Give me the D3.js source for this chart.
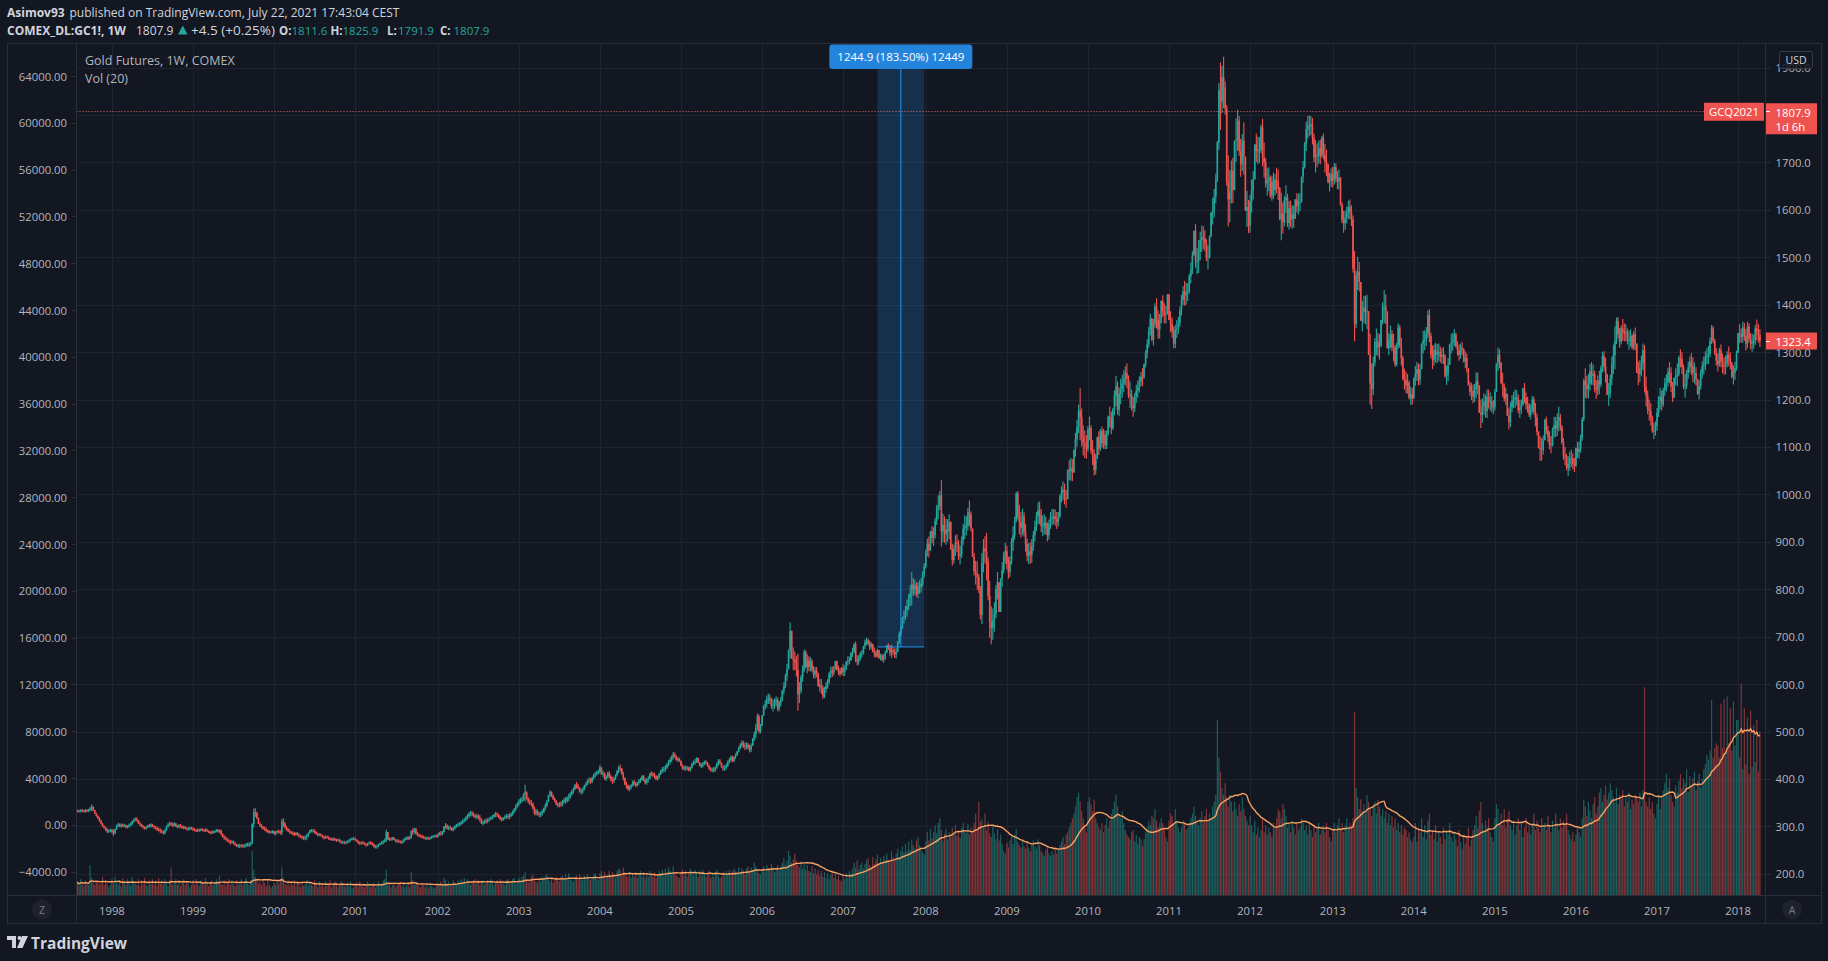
<!DOCTYPE html>
<html><head><meta charset="utf-8">
<script src="https://cdn.jsdelivr.net/npm/d3@7/dist/d3.min.js"></script>
<style>
html,body{margin:0;padding:0;background:#131722;overflow:hidden;}
svg{display:block;}
text{font-family:"Open Sans",Roboto,sans-serif;}
</style></head><body>
<svg id="chart" width="1828" height="961"></svg>
<script>
// ================= DATA =================
const yearList = [1997,1998,1999,2000,2001,2002,2003,2004,2005,2006,2007,2008,2009,2010,2011,2012,2013,2014,2015,2016,2017,2018];
const firstWeek1997 = "1997-07-28";
const firstOpen = 333;

// weekly closes (USD)
const close1997 = [332,333,331,334,333,331,334,332,335,338,341,334,327,322,317,312,306,300,297,293,289,291,292];
const close1998 = [288,285,294,302,304,300,303,301,302,298,300,303,305,310,314,316,313,306,304,300,298,296,298,302,300,304,300,298,296,294,292,290,288,286,292,300,304,306,304,302,306,300,299,302,300,297,299,296,294,295,297,295];
const close1999 = [294,292,290,293,291,294,292,291,293,290,288,286,289,287,290,292,289,291,284,278,276,273,270,268,266,268,264,262,258,260,258,260,258,259,262,261,262,264,305,330,328,318,305,302,298,296,294,291,288,289,287,290];
const close2000 = [284,287,290,288,287,310,306,298,294,290,288,286,285,282,286,282,280,278,276,275,277,279,286,292,290,291,288,284,282,283,281,277,276,278,277,274,273,272,274,271,270,272,268,266,267,265,266,268,270,273,274,274];
const close2001 = [272,268,265,264,266,265,262,260,264,266,264,262,258,256,258,262,264,266,268,272,288,272,274,272,276,272,268,270,268,266,267,272,274,276,275,276,290,288,294,285,282,280,279,278,276,274,276,274,276,278,279,280,279];
const close2002 = [282,286,284,288,300,302,296,298,296,292,296,300,302,304,306,308,312,314,318,322,326,328,326,322,320,322,318,316,306,308,312,310,314,316,318,320,324,326,324,320,316,314,318,320,322,320,322,326,330,336,342,348];
const close2003 = [352,356,356,368,372,358,352,350,348,338,328,332,326,324,328,330,338,344,352,366,372,364,358,354,346,344,348,346,352,356,354,360,362,368,374,378,388,386,382,372,374,378,386,390,396,398,394,402,408,410,414,416];
const close2004 = [424,410,412,400,404,412,406,398,396,400,408,416,424,422,410,402,388,386,378,382,386,394,390,386,392,396,398,406,398,392,398,400,412,410,408,406,400,404,410,418,420,420,424,430,436,440,446,452,448,440,442,438];
const close2005 = [428,422,424,422,424,418,424,432,436,436,444,434,428,428,432,436,434,428,422,418,420,418,424,432,438,434,424,422,424,428,436,440,446,438,446,450,458,466,472,476,470,468,472,466,462,470,486,494,508,532,500,512];
const close2006 = [534,554,558,568,570,566,554,556,562,566,548,560,566,586,596,618,632,672,712,654,652,646,630,578,586,614,630,668,636,650,636,648,630,620,628,622,596,598,592,574,590,596,604,622,628,624,632,648,630,628,622,634];
const close2007 = [626,630,648,650,650,666,668,684,652,648,654,664,664,680,688,692,686,678,684,668,666,660,672,654,660,652,656,666,682,676,666,672,668,662,668,690,706,718,740,744,756,764,782,792,810,800,808,790,806,804,812,832,848];
const close2008 = [880,896,882,922,908,914,944,970,976,998,922,936,916,926,922,942,884,862,886,898,896,870,874,904,928,934,934,962,958,928,868,838,832,826,798,746,856,886,880,858,786,730,718,735,748,800,815,752,823,840,872,880];
const close2009 = [854,836,860,900,914,944,1002,952,942,930,954,920,896,870,880,872,890,914,932,954,966,956,934,934,940,928,914,938,952,952,954,948,942,954,996,1004,1010,992,990,1052,1050,1056,1046,1094,1116,1142,1176,1162,1120,1108,1104,1096];
const close2010 = [1138,1140,1092,1084,1052,1076,1120,1096,1134,1108,1126,1104,1126,1164,1162,1140,1178,1208,1228,1178,1212,1222,1234,1244,1256,1244,1210,1210,1188,1182,1206,1218,1226,1238,1248,1246,1274,1298,1316,1346,1370,1326,1358,1396,1368,1348,1362,1408,1386,1378,1380,1422];
const close2011 = [1368,1360,1344,1318,1348,1350,1362,1388,1410,1428,1420,1426,1428,1460,1474,1504,1556,1492,1492,1512,1536,1542,1540,1530,1500,1500,1544,1594,1600,1628,1662,1742,1852,1828,1880,1858,1814,1658,1622,1636,1682,1642,1746,1748,1788,1724,1696,1746,1712,1598,1606,1566];
const close2012 = [1618,1640,1664,1738,1724,1726,1726,1774,1710,1700,1656,1662,1668,1630,1660,1642,1664,1660,1646,1580,1592,1574,1620,1626,1572,1604,1580,1590,1582,1622,1608,1616,1616,1670,1690,1740,1770,1778,1776,1780,1752,1710,1716,1714,1730,1714,1752,1716,1702,1696,1658,1660,1676];
const close2013 = [1662,1690,1666,1660,1668,1610,1578,1572,1584,1594,1606,1596,1580,1476,1360,1462,1470,1448,1366,1386,1394,1384,1386,1294,1234,1222,1278,1322,1322,1310,1312,1368,1396,1396,1386,1308,1326,1338,1310,1310,1274,1316,1352,1314,1288,1244,1242,1230,1236,1204,1212,1202];
const close2014 = [1246,1254,1264,1242,1264,1318,1324,1326,1340,1378,1334,1294,1284,1304,1294,1300,1300,1290,1294,1292,1250,1252,1274,1316,1320,1324,1338,1312,1304,1294,1310,1306,1280,1288,1266,1230,1216,1218,1206,1222,1238,1230,1172,1168,1186,1196,1176,1206,1196,1196,1184,1184];
const close2015 = [1216,1276,1294,1278,1234,1228,1202,1212,1166,1152,1184,1198,1200,1204,1204,1178,1182,1188,1224,1204,1190,1188,1168,1180,1200,1174,1162,1132,1098,1096,1094,1114,1158,1134,1122,1106,1104,1138,1146,1138,1156,1162,1142,1110,1082,1080,1056,1064,1076,1076,1064,1060];
const close2016 = [1098,1090,1096,1118,1158,1240,1230,1222,1234,1260,1250,1254,1222,1220,1240,1232,1266,1292,1270,1254,1210,1212,1244,1276,1294,1324,1366,1338,1322,1350,1344,1340,1342,1324,1326,1334,1310,1338,1318,1256,1254,1266,1276,1304,1226,1208,1180,1176,1162,1134,1134,1144];
const close2017 = [1172,1198,1206,1190,1220,1234,1236,1258,1256,1228,1204,1246,1250,1254,1288,1286,1268,1228,1230,1256,1268,1280,1270,1256,1256,1242,1212,1228,1256,1270,1274,1290,1292,1296,1324,1350,1324,1298,1282,1274,1304,1280,1272,1270,1276,1294,1288,1276,1248,1256,1266,1298];
const close2018 = [1340,1338,1332,1352,1334,1318,1354,1328,1318,1322,1322,1350,1344,1336,1323.4];

// weekly high-low range (USD)
const range1997 = [7,6,6,7,6,6,8,6,7,9,14,10,9,8,8,9,10,8,7,9,10,8,7];
const range1998 = [10,14,12,11,9,8,9,8,7,8,7,9,8,10,9,8,9,8,9,7,8,7,8,7,8,9,7,8,7,9,8,10,9,8,12,11,10,9,8,10,9,8,7,9,8,7,8,7,6,7,8,6];
const range1999 = [8,7,6,8,7,6,7,6,8,7,6,7,8,7,6,7,8,7,12,9,10,8,9,8,10,7,8,9,7,8,9,7,8,7,9,8,10,9,44,40,18,16,12,10,9,8,9,10,8,7,6,7];
const range2000 = [8,9,7,8,9,34,18,14,10,8,9,7,8,9,7,8,9,7,8,9,10,12,9,8,7,8,9,7,8,7,6,7,8,7,6,7,6,7,8,6,7,6,7,8,6,7,6,7,8,7,6,7];
const range2001 = [7,6,7,8,6,7,6,8,7,6,7,8,9,7,8,7,6,8,9,9,26,14,7,8,7,6,7,8,7,6,7,8,9,7,8,7,18,14,12,14,10,8,7,8,7,6,7,6,7,6,7,6,7];
const range2002 = [9,8,10,9,14,12,11,10,9,8,9,10,8,9,8,9,10,9,11,12,13,12,11,10,9,10,11,14,12,10,9,11,10,9,8,10,9,11,10,9,10,9,8,9,10,11,12,10,11,12,13,11];
const range2003 = [14,13,12,16,36,18,14,12,13,15,18,14,12,11,12,13,12,14,15,13,14,12,11,10,11,10,11,12,13,12,14,13,16,14,12,13,12,14,12,11,12,13,12,11,12,13,12,14,13,12,11,10];
const range2004 = [18,16,14,15,13,14,16,15,14,13,12,14,16,15,14,18,16,14,13,12,11,13,12,11,10,12,11,12,13,12,14,13,12,11,10,12,11,10,12,11,12,13,14,12,13,15,14,16,12,11,10,9];
const range2005 = [12,11,10,11,9,10,11,12,10,13,12,11,10,11,12,10,9,10,11,9,10,11,12,13,14,11,10,11,12,13,14,12,13,14,12,11,10,12,13,14,15,16,14,15,16,18,17,20,30,36,40,20];
const range2006 = [24,22,20,26,22,20,24,26,22,21,28,22,20,24,26,30,36,42,76,60,48,40,44,120,44,38,34,48,38,40,32,30,28,26,24,22,30,26,32,28,24,22,20,26,24,22,20,18,22,20,18,16];
const range2007 = [26,22,18,20,16,18,20,22,44,22,20,18,16,18,20,16,14,20,16,18,20,16,18,16,14,16,18,20,16,14,22,28,18,20,22,24,26,24,26,28,30,36,34,44,70,38,32,30,34,28,30,32,30];
const range2008 = [40,38,44,42,36,40,44,42,50,40,140,60,56,54,48,52,60,46,40,44,38,42,40,46,44,50,40,48,54,42,56,48,50,60,40,70,150,70,58,100,90,120,80,66,62,70,58,54,48,52,46,44];
const range2009 = [50,46,44,56,52,48,64,60,62,54,56,52,58,48,44,46,50,42,44,40,46,48,50,44,42,38,40,42,36,34,32,34,36,30,50,34,40,44,38,48,42,48,46,44,50,56,60,110,80,64,58,50];
const range2010 = [54,50,60,52,56,44,48,50,46,44,42,40,38,42,44,48,46,52,64,70,60,54,48,46,40,52,48,56,44,42,40,38,36,34,30,38,32,36,40,44,46,50,56,52,64,60,52,48,46,42,38,36];
const range2011 = [40,44,42,46,50,38,36,42,44,40,52,46,38,42,44,48,52,92,56,70,60,56,48,44,46,50,48,52,56,60,62,86,140,142,100,108,70,170,150,110,90,96,100,92,86,84,80,78,110,90,76,70];
const range2012 = [80,70,60,72,60,58,54,60,100,74,62,58,50,48,52,56,44,54,64,70,100,66,64,58,70,60,56,50,46,42,40,44,38,42,46,56,62,48,44,40,56,60,68,50,48,52,46,54,60,56,42,40,38];
const range2013 = [44,46,40,38,42,60,44,46,40,36,38,42,44,120,190,120,70,62,80,64,58,60,72,70,150,96,82,60,56,50,54,52,46,70,62,54,46,48,44,58,46,50,54,48,58,52,44,46,42,40,38,36];
const range2014 = [44,42,40,46,44,50,48,42,40,58,70,54,50,44,42,40,36,34,32,36,50,40,48,44,42,38,36,32,30,34,32,28,30,36,40,34,30,36,40,38,54,46,58,60,52,46,48,60,40,38,34,30];
const range2015 = [46,56,48,40,44,50,38,36,42,44,52,36,34,38,32,40,38,30,36,42,36,34,30,32,36,38,50,46,36,52,48,40,44,36,34,38,36,40,44,42,48,52,36,40,46,38,34,42,40,36,34,30];
const range2016 = [40,34,36,38,50,90,62,48,52,56,48,44,46,40,42,50,46,44,42,52,44,48,50,60,62,90,56,44,42,40,46,38,36,34,40,36,32,40,48,54,50,46,44,56,100,62,50,44,46,36,34,30];
const range2017 = [48,44,46,42,40,38,36,40,44,52,42,38,36,48,44,38,46,52,50,40,36,34,46,52,44,38,34,40,42,36,38,40,34,38,42,40,36,34,36,38,40,48,42,36,40,34,42,36,34,40,38,42];
const range2018 = [36,40,30,44,38,46,56,40,34,38,30,42,44,40,38];

// weekly volume (hundreds, Vol pane units)
const vol1997 = [12,10,8,14,11,8,13,10,9,26,15,11,9,13,12,9,11,16,9,13,10,7,9];
const vol1998 = [14,10,16,12,9,13,8,15,11,9,14,12,8,16,12,10,9,14,8,13,10,15,9,8,13,10,14,9,13,8,15,10,13,9,14,11,8,13,24,9,11,14,9,13,8,11,14,9,12,10,7,9];
const vol1999 = [13,9,14,10,8,13,11,9,15,12,8,11,13,9,11,14,12,17,10,9,13,8,11,14,9,13,10,8,13,9,11,14,9,12,15,10,9,13,38,22,16,14,10,12,9,14,11,8,13,9,7,8];
const vol2000 = [11,9,13,10,14,24,15,10,9,13,8,11,9,13,8,11,10,7,12,8,10,13,8,11,9,8,13,9,7,12,8,10,7,12,8,10,13,7,9,12,10,7,9,12,10,8,7,11,8,12,6,7];
const vol2001 = [9,11,7,12,8,10,7,9,12,10,7,9,11,7,9,12,8,10,13,14,22,11,10,7,9,11,7,9,10,12,8,10,7,9,11,7,20,13,9,11,10,8,7,11,9,7,9,6,11,8,7,6,8];
const vol2002 = [10,8,12,10,15,13,9,12,8,10,13,11,9,13,11,14,12,15,10,14,12,9,11,13,14,10,13,9,11,13,9,11,13,10,14,12,9,11,13,10,14,12,10,9,13,14,10,12,14,15,10,12];
const vol2003 = [15,12,16,17,20,14,11,13,16,18,14,12,11,15,12,16,14,17,18,14,12,15,11,13,16,13,12,16,17,13,18,15,19,14,13,12,16,17,13,18,14,13,17,14,18,16,13,15,18,19,14,13];
const vol2004 = [19,21,16,20,15,18,21,16,20,18,15,21,23,22,18,24,20,17,16,20,15,18,16,20,15,18,21,16,20,15,18,16,21,18,16,20,15,18,21,19,22,17,23,20,24,21,18,25,20,17,16,15];
const vol2005 = [19,22,17,21,16,19,23,20,17,22,19,16,21,17,22,19,16,18,21,15,18,16,20,22,17,15,16,20,17,21,19,22,17,21,23,21,18,24,20,23,21,18,23,25,20,24,22,28,25,22,19,18];
const vol2006 = [22,25,20,26,23,21,27,24,20,23,26,21,25,28,32,26,30,38,34,28,31,36,30,26,24,29,23,27,22,26,21,20,25,19,23,18,22,17,21,16,20,15,19,14,18,20,15,19,14,17,13,12];
const vol2007 = [17,14,19,15,21,19,23,28,24,30,22,26,28,23,27,30,32,26,24,33,27,31,35,28,32,27,34,30,36,31,28,38,33,30,36,40,33,38,42,37,44,38,46,39,48,43,40,47,50,43,41,37,35];
const vol2008 = [46,54,47,57,49,54,60,53,62,66,56,47,53,57,48,54,50,58,53,60,51,56,49,58,62,55,53,61,52,58,54,62,70,57,80,63,65,58,70,56,63,53,50,59,53,48,57,47,52,44,38,36];
const vol2009 = [45,41,47,50,44,52,57,46,43,41,47,42,40,46,41,38,45,47,42,40,48,43,38,36,34,39,42,36,34,38,35,41,36,39,43,46,50,44,52,54,58,62,66,70,76,84,88,80,72,66,60,54];
const vol2010 = [80,84,78,72,82,66,62,58,56,62,54,60,66,58,64,70,74,80,86,76,70,66,72,62,56,52,50,48,54,56,46,52,44,50,48,42,48,54,58,64,60,68,66,74,64,58,62,66,62,58,50,46];
const vol2011 = [64,70,68,62,74,64,58,54,58,64,62,56,58,62,66,70,76,68,62,60,66,72,62,68,74,64,70,66,76,80,86,150,118,106,92,86,96,84,76,86,80,72,80,74,68,78,72,84,74,68,64,60];
const vol2012 = [68,60,54,64,52,58,50,56,66,54,60,52,58,54,50,62,58,66,74,72,66,78,74,68,58,62,54,64,58,52,62,56,58,66,62,56,60,52,62,56,50,60,54,58,62,52,56,60,54,62,56,50,46];
const vol2013 = [56,62,54,60,66,56,62,54,60,66,58,62,60,66,157,92,84,74,82,72,78,70,86,80,74,68,76,80,70,82,76,68,74,66,72,62,70,60,68,58,66,56,62,54,60,52,58,56,50,54,48,46];
const vol2014 = [50,62,46,58,54,66,50,60,48,64,70,52,56,48,60,46,54,50,44,58,48,56,52,62,50,46,54,48,42,56,46,40,52,44,50,58,42,48,56,60,68,58,72,80,62,56,64,58,66,54,50,46];
const vol2015 = [66,78,74,62,70,60,74,58,66,72,60,56,64,52,60,66,56,62,50,58,66,54,60,52,62,70,56,64,58,54,66,58,62,56,68,60,54,64,58,70,62,56,66,58,64,60,70,56,52,48,54,46];
const vol2016 = [52,58,54,50,66,82,76,68,80,72,66,78,84,70,76,88,92,80,86,94,82,88,96,90,84,80,92,78,86,82,90,76,84,80,88,74,82,78,86,84,80,88,76,90,178,80,76,84,74,80,70,66];
const vol2017 = [78,86,74,84,90,96,104,92,100,86,80,76,94,88,98,104,92,100,96,108,88,102,94,100,106,90,98,104,92,100,108,112,120,116,124,167,118,126,130,128,118,164,126,168,122,170,130,160,124,166,128,150];
const vol2018 = [150,118,181,108,160,112,152,104,158,110,146,114,150,106,140];

// axis tick labels
const yearLabels = ["1998","1999","2000","2001","2002","2003","2004","2005","2006","2007","2008","2009","2010","2011","2012","2013","2014","2015","2016","2017","2018"];
const priceTicks = [200,300,400,500,600,700,800,900,1000,1100,1200,1300,1400,1500,1600,1700,1800,1900];
const volAxisTicks = [-4000,0,4000,8000,12000,16000,20000,24000,28000,32000,36000,40000,44000,48000,52000,56000,60000,64000];

// annotations
const contractLabel = "GCQ2021";
const contractPrice = 1807.9;
const contractCountdown = "1d 6h";
const rangeDates = ["2007-06-04","2007-12-31"];
const rangePrices = [678.4,1923.3];
const rangeText = "1244.9 (183.50%) 12449";

// ================= BUILD =================
const closeSeries=[close1997,close1998,close1999,close2000,close2001,close2002,close2003,close2004,close2005,close2006,close2007,close2008,close2009,close2010,close2011,close2012,close2013,close2014,close2015,close2016,close2017,close2018];
const rangeSeries=[range1997,range1998,range1999,range2000,range2001,range2002,range2003,range2004,range2005,range2006,range2007,range2008,range2009,range2010,range2011,range2012,range2013,range2014,range2015,range2016,range2017,range2018];
const volSeries=[vol1997,vol1998,vol1999,vol2000,vol2001,vol2002,vol2003,vol2004,vol2005,vol2006,vol2007,vol2008,vol2009,vol2010,vol2011,vol2012,vol2013,vol2014,vol2015,vol2016,vol2017,vol2018];

const parseDay=d3.utcParse("%Y-%m-%d");
const bars=[];
let prev=firstOpen;
yearList.forEach((yr,k)=>{
  const start = yr===1997 ? parseDay(firstWeek1997) : d3.utcMonday.ceil(new Date(Date.UTC(yr,0,1)));
  closeSeries[k].forEach((c,i)=>{
    const o=prev, r=rangeSeries[k][i], body=Math.abs(c-o), ext=Math.max(0,(r-body)/2);
    bars.push({date:d3.utcDay.offset(start,7*i),open:o,close:c,high:Math.max(o,c)+ext,low:Math.min(o,c)-ext,vol:volSeries[k][i]});
    prev=c;
  });
});
bars.forEach((b,i)=>{b.ma=d3.mean(bars.slice(Math.max(0,i-19),i+1),d=>d.vol);});
const last=bars[bars.length-1];

const W=1828,H=961;
const P={l:76.5,r:1765.5,t:43.5,b:895.5};
const paneL=7.5,paneR=1821.5,paneB=923.5;

const svg=d3.select("#chart");
svg.append("rect").attr("width",W).attr("height",H).attr("fill","#131722");

const yearTickDates=yearLabels.map(s=>d3.utcMonday.ceil(new Date(Date.UTC(+s,0,1))));
const x=d3.scaleUtc().domain([yearTickDates[0],yearTickDates[yearTickDates.length-1]]).range([111.9,1738.1]);
const y=d3.scaleLinear().domain([200,1900]).range([873.8,67.6]);
const yLeft=d3.scaleLinear().domain([-4000,64000]).range([871.6,76]);
const yVol=d3.scaleLinear().domain([0,700]).range([P.b,P.b-819]);

const defs=svg.append("defs");
defs.append("clipPath").attr("id","plotClip").append("rect").attr("x",P.l+0.5).attr("y",P.t+0.5).attr("width",P.r-P.l-1).attr("height",P.b-P.t-1);

// pane frame
svg.append("rect").attr("x",paneL).attr("y",P.t).attr("width",paneR-paneL).attr("height",paneB-P.t).attr("fill","#131722").attr("stroke","#2a2e39");

const g=svg.append("g").attr("clip-path","url(#plotClip)");
// grid
g.append("g").selectAll("line").data(priceTicks).join("line")
 .attr("x1",P.l).attr("x2",P.r).attr("y1",d=>Math.round(y(d))+0.5).attr("y2",d=>Math.round(y(d))+0.5)
 .attr("stroke","#1f2330").attr("stroke-width",1);
g.append("g").selectAll("line").data(yearTickDates).join("line")
 .attr("y1",P.t).attr("y2",P.b).attr("x1",d=>Math.round(x(d))+0.5).attr("x2",d=>Math.round(x(d))+0.5)
 .attr("stroke","#1f2330").attr("stroke-width",1);

// range tool box (behind candles)
const rx0=x(parseDay(rangeDates[0])), rx1=x(parseDay(rangeDates[1]));
const ryTop=y(rangePrices[1]), ryBot=y(rangePrices[0]);
g.append("rect").attr("x",rx0).attr("y",ryTop).attr("width",rx1-rx0).attr("height",ryBot-ryTop).attr("fill","rgba(33,150,243,0.2)");

// volume
g.append("g").selectAll("rect").data(bars).join("rect")
 .attr("x",d=>x(d.date)-0.6).attr("width",1.2)
 .attr("y",d=>yVol(d.vol)).attr("height",d=>P.b-yVol(d.vol))
 .attr("fill",d=>d.close>=d.open?"rgba(38,166,154,0.5)":"rgba(239,83,80,0.5)");

// candles
const cg=g.append("g");
cg.selectAll("line").data(bars).join("line")
 .attr("x1",d=>x(d.date)).attr("x2",d=>x(d.date)).attr("y1",d=>y(d.high)).attr("y2",d=>y(d.low))
 .attr("stroke",d=>d.close>=d.open?"#26a69a":"#ef5350").attr("stroke-width",1.1);
cg.selectAll("rect").data(bars).join("rect")
 .attr("x",d=>x(d.date)-0.8).attr("width",1.6)
 .attr("y",d=>y(Math.max(d.open,d.close))).attr("height",d=>Math.max(1,Math.abs(y(d.open)-y(d.close))))
 .attr("fill",d=>d.close>=d.open?"#26a69a":"#ef5350");

// volume MA
g.append("path").datum(bars).attr("fill","none").attr("stroke","#f7a262").attr("stroke-width",1.4)
 .attr("d",d3.line().x(d=>x(d.date)).y(d=>yVol(d.ma)));

// contract price dotted line
const ycl=Math.round(y(contractPrice))+0.5;
g.append("line").attr("x1",P.l).attr("x2",1704).attr("y1",ycl).attr("y2",ycl)
 .attr("stroke","#e0666a").attr("stroke-dasharray","1 2");

// range tool lines
const rmid=(rx0+rx1)/2;
g.append("line").attr("x1",rmid).attr("x2",rmid).attr("y1",ryTop).attr("y2",ryBot).attr("stroke","#2196f3").attr("stroke-width",1);
g.append("line").attr("x1",rx0).attr("x2",rx1).attr("y1",ryBot).attr("y2",ryBot).attr("stroke","#2196f3").attr("stroke-width",1);
svg.append("rect").attr("x",rmid-71.5).attr("y",44.5).attr("width",143).attr("height",24.5).attr("rx",3).attr("fill","#2384dc");
svg.append("text").attr("x",rmid).attr("y",56.8).attr("text-anchor","middle").attr("dominant-baseline","central")
 .attr("fill","#ffffff").attr("font-size",11.5).text(rangeText);

// legend
svg.append("text").attr("x",85).attr("y",60.7).attr("dominant-baseline","central").attr("fill","#b2b5be").attr("font-size",12.5).text("Gold Futures, 1W, COMEX");
svg.append("text").attr("x",85).attr("y",78.3).attr("dominant-baseline","central").attr("fill","#b2b5be").attr("font-size",12.5).text("Vol (20)");

// separators
svg.append("line").attr("x1",P.l).attr("x2",P.l).attr("y1",P.t).attr("y2",paneB).attr("stroke","#2a2e39");
svg.append("line").attr("x1",P.r).attr("x2",P.r).attr("y1",P.t).attr("y2",paneB).attr("stroke","#2a2e39");
svg.append("line").attr("x1",paneL).attr("x2",paneR).attr("y1",P.b).attr("y2",P.b).attr("stroke","#2a2e39");

// left axis (volume scale)
const la=svg.append("g");
la.selectAll("line").data(volAxisTicks).join("line").attr("x1",P.l-5).attr("x2",P.l).attr("y1",d=>Math.round(yLeft(d))+0.5).attr("y2",d=>Math.round(yLeft(d))+0.5).attr("stroke","#2a2e39");
la.selectAll("text").data(volAxisTicks).join("text").attr("x",67).attr("y",d=>yLeft(d)).attr("text-anchor","end").attr("dominant-baseline","central")
 .attr("fill","#b2b5be").attr("font-size",11.3).text(d3.format(".2f"));

// right axis (price); the tick hidden behind the contract tag is not drawn, as in the reference
const shownPriceTicks=priceTicks.filter(p=>Math.abs(y(p)-y(contractPrice))>12);
const ra=svg.append("g");
ra.selectAll("line").data(priceTicks).join("line").attr("x1",P.r).attr("x2",P.r+5).attr("y1",d=>Math.round(y(d))+0.5).attr("y2",d=>Math.round(y(d))+0.5).attr("stroke","#2a2e39");
ra.selectAll("text").data(shownPriceTicks).join("text").attr("x",1775.5).attr("y",d=>y(d)).attr("dominant-baseline","central")
 .attr("fill","#b2b5be").attr("font-size",11.3).text(d3.format(".1f"));

// USD box
svg.append("rect").attr("x",1779.5).attr("y",51.5).attr("width",33).attr("height",17).attr("rx",2).attr("fill","#131722").attr("fill-opacity",0.85).attr("stroke","#363a45");
svg.append("text").attr("x",1796).attr("y",60.2).attr("text-anchor","middle").attr("dominant-baseline","central").attr("fill","#d1d4dc").attr("font-size",10.5).text("USD");

// contract tags
const yc=y(contractPrice);
svg.append("rect").attr("x",1704).attr("y",yc-8.5).attr("width",60).attr("height",18).attr("fill","#ef5350");
svg.append("text").attr("x",1734).attr("y",yc+0.5).attr("text-anchor","middle").attr("dominant-baseline","central").attr("fill","#fff").attr("font-size",11.3).text(contractLabel);
svg.append("rect").attr("x",1766).attr("y",yc-8).attr("width",51).attr("height",31).attr("fill","#ef5350");
svg.append("line").attr("x1",1766).attr("x2",1770).attr("y1",Math.round(yc)+0.5).attr("y2",Math.round(yc)+0.5).attr("stroke","#fff");
svg.append("text").attr("x",1775.5).attr("y",yc+1).attr("dominant-baseline","central").attr("fill","#fff").attr("font-size",11.3).text(d3.format(".1f")(contractPrice));
svg.append("text").attr("x",1775.5).attr("y",yc+15.3).attr("dominant-baseline","central").attr("fill","#fff").attr("font-size",11.3).text(contractCountdown);

// last bar tag
const yl=y(last.close);
svg.append("rect").attr("x",1766).attr("y",yl-8.5).attr("width",51).attr("height",17).attr("fill","#ef5350");
svg.append("line").attr("x1",1766).attr("x2",1770).attr("y1",Math.round(yl)+0.5).attr("y2",Math.round(yl)+0.5).attr("stroke","#fff");
svg.append("text").attr("x",1775.5).attr("y",yl).attr("dominant-baseline","central").attr("fill","#fff").attr("font-size",11.3).text(d3.format(".1f")(last.close));

// time axis
svg.append("g").selectAll("text").data(yearTickDates).join("text")
 .attr("x",d=>x(d)).attr("y",910).attr("text-anchor","middle").attr("dominant-baseline","central")
 .attr("fill","#b2b5be").attr("font-size",11.3).text((d,i)=>yearLabels[i]);
[[42,"Z"],[1792,"A"]].forEach(([cx,t])=>{
  svg.append("circle").attr("cx",cx).attr("cy",909.5).attr("r",10).attr("fill","#1e222d");
  svg.append("text").attr("x",cx).attr("y",909.5).attr("text-anchor","middle").attr("dominant-baseline","central").attr("fill","#787b86").attr("font-size",10.5).text(t);
});

// header
const hdr=svg.append("g").attr("fill","#d1d4dc");
hdr.append("text").attr("x",7).attr("y",12.5).attr("dominant-baseline","central").attr("font-size",12).attr("font-weight",700).text("Asimov93");
hdr.append("text").attr("x",69.5).attr("y",12.5).attr("dominant-baseline","central").attr("font-size",12).attr("textLength",330).attr("lengthAdjust","spacingAndGlyphs").text("published on TradingView.com, July 22, 2021 17:43:04 CEST");
hdr.append("text").attr("x",7).attr("y",30).attr("dominant-baseline","central").attr("font-size",12).attr("font-weight",700).text("COMEX_DL:GC1!, 1W");
hdr.append("text").attr("x",136).attr("y",30).attr("dominant-baseline","central").attr("font-size",12).text("1807.9");
hdr.append("path").attr("d","M178,34.5 L187.5,34.5 L182.75,25.5 Z").attr("fill","#26a69a");
hdr.append("text").attr("x",191).attr("y",30).attr("dominant-baseline","central").attr("font-size",12).attr("textLength",84).attr("lengthAdjust","spacingAndGlyphs").text("+4.5 (+0.25%)");
[["O:",279,"1811.6",291.5],["H:",330.5,"1825.9",342.5],["L:",387,"1791.9",398],["C:",440,"1807.9",453.5]].forEach(([k,kx,v,vx])=>{
  hdr.append("text").attr("x",kx).attr("y",30).attr("dominant-baseline","central").attr("font-size",11.5).attr("font-weight",700).text(k);
  hdr.append("text").attr("x",vx).attr("y",30).attr("dominant-baseline","central").attr("font-size",11.5).attr("fill","#26a69a").text(v);
});

// TradingView logo
const lg=svg.append("g").attr("fill","#d1d4dc");
lg.append("rect").attr("x",7).attr("y",936).attr("width",9).attr("height",4);
lg.append("rect").attr("x",12).attr("y",936).attr("width",4).attr("height",12);
lg.append("circle").attr("cx",19.5).attr("cy",938).attr("r",2);
lg.append("path").attr("d","M22,936 L28,936 L22.5,948 L17,948 Z");
svg.append("text").attr("x",31).attr("y",942.5).attr("dominant-baseline","central").attr("font-size",15.5).attr("font-weight",700).attr("fill","#d1d4dc").text("TradingView");
</script>
</body></html>
